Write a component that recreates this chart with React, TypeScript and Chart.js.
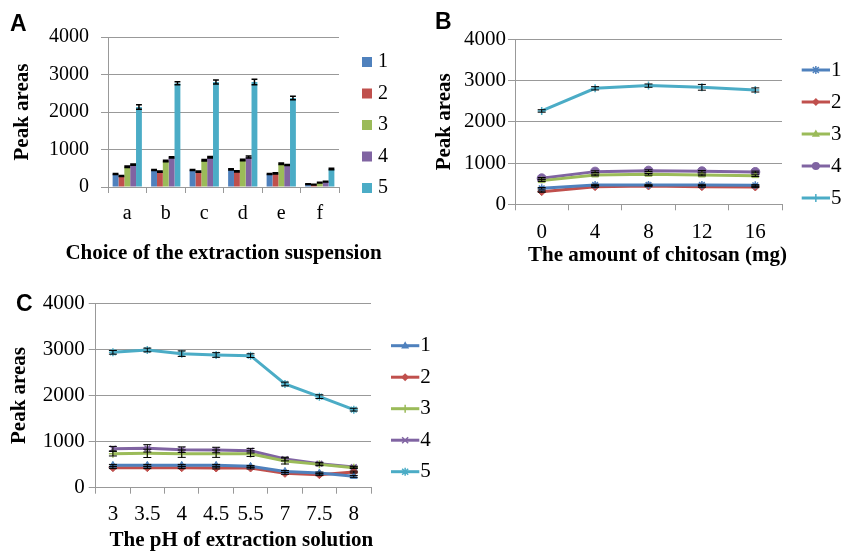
import React, { useEffect, useRef } from 'react';
import { Chart, registerables } from 'chart.js';

Chart.register(...registerables);

// ---------- Data ----------
const seriesLabels = ['1', '2', '3', '4', '5'];

// Panel A: choice of extraction suspension (bars)
const catsA = ['a', 'b', 'c', 'd', 'e', 'f'];
const a1 = [347, 453, 453, 471, 347, 80];
const a2 = [293, 409, 409, 418, 364, 62];
const a3 = [542, 693, 711, 720, 622, 116];
const a4 = [596, 791, 791, 800, 587, 142];
const a5 = [2133, 2764, 2800, 2800, 2373, 480];
const errA1 = [15, 15, 15, 15, 15, 10];
const errA2 = [15, 15, 15, 15, 15, 10];
const errA3 = [20, 20, 20, 20, 20, 10];
const errA4 = [15, 15, 20, 25, 15, 10];
const errA5 = [60, 40, 55, 75, 45, 20];

// Panel B: amount of chitosan (lines)
const catsB = ['0', '4', '8', '12', '16'];
const b1 = [388, 469, 469, 469, 461];
const b2 = [307, 428, 444, 428, 420];
const b3 = [574, 711, 727, 711, 695];
const b4 = [630, 792, 816, 800, 784];
const b5 = [2263, 2812, 2877, 2836, 2772];
const errB1 = [20, 15, 15, 15, 15];
const errB2 = [15, 15, 15, 15, 15];
const errB3 = [20, 20, 20, 20, 20];
const errB4 = [20, 20, 20, 20, 20];
const errB5 = [30, 40, 40, 70, 50];

// Panel C: pH of extraction solution (lines)
const catsC = ['3', '3.5', '4', '4.5', '5.5', '7', '7.5', '8'];
const c1 = [485, 485, 485, 485, 463, 354, 318, 246];
const c2 = [434, 434, 434, 427, 427, 311, 282, 340];
const c3 = [738, 745, 738, 738, 738, 579, 506, 434];
const c4 = [846, 854, 825, 817, 803, 622, 521, 448];
const c5 = [2937, 2987, 2908, 2879, 2864, 2250, 1975, 1693];
const errC1 = [20, 20, 20, 20, 20, 20, 20, 20];
const errC2 = [20, 20, 20, 20, 20, 20, 20, 20];
const errC3 = [50, 90, 80, 80, 60, 65, 30, 20];
const errC4 = [50, 80, 60, 60, 50, 40, 30, 20];
const errC5 = [40, 40, 60, 50, 40, 40, 40, 30];

const yTicks = [0, 1000, 2000, 3000, 4000];

// ---------- Styles ----------
const PALETTE = ['#4F81BD', '#C0504D', '#9BBB59', '#8064A2', '#4BACC6'];
const GRID = '#999999';
const SERIF = '"Liberation Serif", "Times New Roman", serif';

function drawMarker(ctx: CanvasRenderingContext2D, style: string, x: number, y: number, r: number, color: string) {
  ctx.save();
  ctx.fillStyle = color;
  ctx.strokeStyle = color;
  ctx.lineWidth = 1.5;
  ctx.beginPath();
  if (style === 'circle') {
    ctx.arc(x, y, r, 0, Math.PI * 2);
    ctx.fill();
  } else if (style === 'triangle') {
    ctx.moveTo(x, y - r * 1.1);
    ctx.lineTo(x + r, y + r * 0.7);
    ctx.lineTo(x - r, y + r * 0.7);
    ctx.closePath();
    ctx.fill();
  } else if (style === 'rectRot') {
    ctx.moveTo(x, y - r);
    ctx.lineTo(x + r, y);
    ctx.lineTo(x, y + r);
    ctx.lineTo(x - r, y);
    ctx.closePath();
    ctx.fill();
  } else {
    if (style === 'cross' || style === 'star') {
      ctx.moveTo(x, y - r); ctx.lineTo(x, y + r);
      ctx.moveTo(x - r, y); ctx.lineTo(x + r, y);
    }
    if (style === 'crossRot' || style === 'star') {
      const d = r * 0.75;
      ctx.moveTo(x - d, y - d); ctx.lineTo(x + d, y + d);
      ctx.moveTo(x - d, y + d); ctx.lineTo(x + d, y - d);
    }
    ctx.stroke();
  }
  ctx.restore();
}

const sideLegend = {
  id: 'sideLegend',
  afterDraw(chart: any, _args: any, opts: any) {
    const o = opts;
    const ctx: CanvasRenderingContext2D = chart.ctx;
    ctx.save();
    chart.data.datasets.forEach((ds: any, i: number) => {
      const y = o.y0 + i * o.step;
      let tx = 0;
      if (o.kind === 'box') {
        ctx.fillStyle = ds.backgroundColor;
        ctx.fillRect(o.x, y - 5, 10, 10);
        tx = o.x + 16;
      } else {
        ctx.strokeStyle = ds.borderColor;
        ctx.lineWidth = 3;
        ctx.beginPath();
        ctx.moveTo(o.x, y);
        ctx.lineTo(o.x + o.len, y);
        ctx.stroke();
        drawMarker(ctx, ds.pointStyle, o.x + o.len / 2, y, 4, ds.borderColor);
        tx = o.x + o.len + 1;
      }
      ctx.fillStyle = '#000';
      ctx.font = `${o.size}px ${SERIF}`;
      ctx.textBaseline = 'middle';
      ctx.textAlign = 'left';
      ctx.fillText(ds.label, tx, y);
    });
    ctx.restore();
  },
};

// x-axis title, centred under the plot (may be wider than the plot area)
const xAxisTitle = {
  id: 'xAxisTitle',
  afterDraw(chart: any, _args: any, opts: any) {
    const ctx: CanvasRenderingContext2D = chart.ctx;
    const area = chart.chartArea;
    ctx.save();
    ctx.fillStyle = '#000';
    ctx.font = `bold 21px ${SERIF}`;
    ctx.textAlign = 'center';
    ctx.textBaseline = 'middle';
    ctx.fillText(opts.text, (area.left + area.right) / 2 + opts.dx, opts.y);
    ctx.restore();
  },
};

const errorBars = {
  id: 'errorBars',
  afterDatasetsDraw(chart: any, _args: any, opts: any) {
    const ctx: CanvasRenderingContext2D = chart.ctx;
    const ys = chart.scales.y;
    ctx.save();
    ctx.strokeStyle = '#000';
    ctx.lineWidth = opts.width || 1;
    chart.data.datasets.forEach((ds: any, di: number) => {
      const meta = chart.getDatasetMeta(di);
      (ds.errors || []).forEach((e: number, i: number) => {
        const el = meta.data[i];
        if (!el) return;
        const v = ds.data[i];
        const yt = ys.getPixelForValue(v + e);
        const yb = ys.getPixelForValue(v - e);
        const x = el.x;
        const cap = opts.cap || el.width || 6;
        ctx.beginPath();
        ctx.moveTo(x, yt); ctx.lineTo(x, yb);
        ctx.moveTo(x - cap / 2, yt); ctx.lineTo(x + cap / 2, yt);
        ctx.moveTo(x - cap / 2, yb); ctx.lineTo(x + cap / 2, yb);
        ctx.stroke();
      });
    });
    ctx.restore();
  },
};

interface AxisGeom {
  yWidth: number;
  xHeight: number;
  tickSize: number;
  xTickPad: number;
  yTickPad: number;
  yTitlePad: number;
  padding: { left: number; top: number; right: number; bottom: number };
}

function scalesFor(g: AxisGeom) {
  const tickFont = { family: SERIF, size: g.tickSize };
  const titleFont = { family: SERIF, size: 21, weight: 'bold' as const, lineHeight: 1.1 };
  return {
    x: {
      type: 'category' as const,
      offset: true,
      grid: { offset: true, drawOnChartArea: false, drawTicks: true, tickLength: 6, color: GRID, lineWidth: 1 },
      border: { display: true, color: GRID, width: 1 },
      ticks: { font: tickFont, color: '#000', padding: g.xTickPad, maxRotation: 0, autoSkip: false },
      title: { display: false },
      afterFit: (s: any) => { s.height = g.xHeight; },
    },
    y: {
      min: 0,
      max: 4000,
      afterBuildTicks: (s: any) => { s.ticks = yTicks.map((v) => ({ value: v })); },
      ticks: { font: tickFont, color: '#000', padding: g.yTickPad, callback: (v: any) => String(v) },
      grid: { color: GRID, lineWidth: 1, tickLength: 7 },
      border: { display: true, color: GRID, width: 1 },
      title: { display: true, text: 'Peak areas', font: titleFont, color: '#000', padding: { top: g.yTitlePad, bottom: 0 } },
      afterFit: (s: any) => { s.width = g.yWidth; },
    },
  };
}

function configA(): any {
  const data = [a1, a2, a3, a4, a5];
  const errs = [errA1, errA2, errA3, errA4, errA5];
  const g: AxisGeom = {
    yWidth: 108, xHeight: 88, tickSize: 20, xTickPad: 9, yTickPad: 12, yTitlePad: 11,
    padding: { left: 0, top: 37, right: 81, bottom: 0 },
  };
  return {
    type: 'bar',
    data: {
      labels: catsA,
      datasets: data.map((d, i) => ({
        label: seriesLabels[i], data: d, errors: errs[i],
        backgroundColor: PALETTE[i], borderWidth: 0,
        categoryPercentage: 0.76, barPercentage: 1,
      })),
    },
    options: {
      animation: false, responsive: false,
      layout: { padding: g.padding },
      plugins: {
        legend: { display: false }, tooltip: { enabled: false },
        sideLegend: { kind: 'box', x: 362, y0: 62, step: 31.5, size: 20 },
        errorBars: { width: 1.5 },
        xAxisTitle: { text: 'Choice of the extraction suspension', dx: 0, y: 254 },
      },
      scales: scalesFor(g),
    },
    plugins: [errorBars, sideLegend, xAxisTitle],
  };
}

function lineConfig(labels: string[], data: number[][], errs: number[][], styles: string[], g: AxisGeom, xTitle: any, legend: any): any {
  return {
    type: 'line',
    data: {
      labels,
      datasets: data.map((d, i) => {
        const st = styles[i];
        const filled = st === 'circle' || st === 'triangle' || st === 'rectRot';
        return {
          label: seriesLabels[i], data: d, errors: errs[i],
          borderColor: PALETTE[i], backgroundColor: PALETTE[i],
          pointStyle: st,
          pointRadius: st === 'circle' ? 4.5 : 4,
          pointBorderWidth: filled ? 1 : 1.5,
          pointBorderColor: PALETTE[i], pointBackgroundColor: PALETTE[i],
          borderWidth: 3, tension: 0, fill: false,
        };
      }),
    },
    options: {
      animation: false, responsive: false,
      layout: { padding: g.padding },
      plugins: {
        legend: { display: false }, tooltip: { enabled: false },
        sideLegend: legend,
        errorBars: { width: 1, cap: 8 },
        xAxisTitle: xTitle,
      },
      scales: scalesFor(g),
    },
    plugins: [errorBars, sideLegend, xAxisTitle],
  };
}

function configB(): any {
  const g: AxisGeom = {
    yWidth: 95, xHeight: 70.7, tickSize: 21, xTickPad: 10, yTickPad: 2, yTitlePad: 13.5,
    padding: { left: 0, top: 39.3, right: 61, bottom: 0 },
  };
  return lineConfig(catsB, [b1, b2, b3, b4, b5], [errB1, errB2, errB3, errB4, errB5],
    ['star', 'rectRot', 'triangle', 'circle', 'cross'], g,
    { text: 'The amount of chitosan (mg)', dx: 9, y: 256 },
    { kind: 'line', x: 381.7, len: 28.3, y0: 70, step: 32, size: 21 });
}

function configC(): any {
  const g: AxisGeom = {
    yWidth: 95.7, xHeight: 68.3, tickSize: 21, xTickPad: 8.6, yTickPad: 4, yTitlePad: 8.4,
    padding: { left: 0, top: 27.3, right: 109, bottom: 0 },
  };
  return lineConfig(catsC, [c1, c2, c3, c4, c5], [errC1, errC2, errC3, errC4, errC5],
    ['triangle', 'rectRot', 'cross', 'crossRot', 'star'], g,
    { text: 'The pH of extraction solution', dx: 8, y: 264.5 },
    { kind: 'line', x: 391, len: 28.3, y0: 69.7, step: 31.5, size: 21 });
}

function Panel(props: { left: number; top: number; width: number; height: number; make: () => any }) {
  const ref = useRef<HTMLCanvasElement | null>(null);
  useEffect(() => {
    if (!ref.current) return;
    const chart = new Chart(ref.current, props.make());
    return () => chart.destroy();
  }, []);
  return (
    <div style={{ position: 'absolute', left: props.left, top: props.top, width: props.width, height: props.height }}>
      <canvas ref={ref} width={props.width} height={props.height} style={{ display: 'block' }} />
    </div>
  );
}

const letterStyle: React.CSSProperties = {
  position: 'absolute',
  font: 'bold 23px "Liberation Sans", Arial, sans-serif',
  lineHeight: '23px',
  color: '#000',
};

export default function App() {
  return (
    <div style={{ position: 'absolute', left: 0, top: 0, width: 843, height: 551, background: '#fff', overflow: 'hidden' }}>
      <Panel left={0} top={0} width={420} height={275} make={configA} />
      <Panel left={420} top={0} width={423} height={275} make={configB} />
      <Panel left={0} top={276} width={480} height={280} make={configC} />
      <div style={{ ...letterStyle, left: 10, top: 12 }}>A</div>
      <div style={{ ...letterStyle, left: 435, top: 10 }}>B</div>
      <div style={{ ...letterStyle, left: 16, top: 292 }}>C</div>
    </div>
  );
}
